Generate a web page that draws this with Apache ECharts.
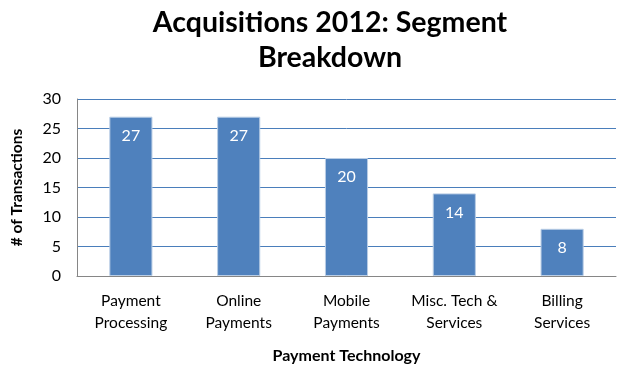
<!DOCTYPE html>
<html><head><meta charset="utf-8">
<script src="https://cdn.jsdelivr.net/npm/echarts@6/dist/echarts.min.js"></script>
<style>html,body{margin:0;padding:0;background:#fff}#c{width:629px;height:369px}</style>
</head><body><div id="c"></div>
<script>
var categories = ['Payment\nProcessing', 'Online\nPayments', 'Mobile\nPayments', 'Misc. Tech &\nServices', 'Billing\nServices'];
var values = [27, 27, 20, 14, 8];
var yTicks = [0, 5, 10, 15, 20, 25, 30];

var font = 'Lato, "Open Sans", sans-serif';
var chart = echarts.init(document.getElementById('c'));
chart.setOption({
  animation: false,
  textStyle: {fontFamily: font},
  title: {
    text: 'Acquisitions 2012: Segment\nBreakdown',
    left: 325, textAlign: 'center', top: 0,
    textStyle: {fontFamily: font, fontSize: 28.5, fontWeight: 'bold', color: '#000', lineHeight: 35}
  },
  grid: {left: 77, right: 13, top: 99, bottom: 93, containLabel: false},
  xAxis: {
    type: 'category', data: categories,
    name: 'Payment Technology', nameLocation: 'middle', nameGap: 72,
    nameTextStyle: {fontFamily: font, fontSize: 16, fontWeight: 'bold', color: '#000'},
    axisLine: {lineStyle: {color: '#868686'}},
    axisTick: {show: false},
    axisLabel: {interval: 0, fontFamily: font, fontSize: 15.5, color: '#000', lineHeight: 22, margin: 14}
  },
  yAxis: {
    type: 'value', min: 0, max: 30, interval: 5,
    name: '# of Transactions', nameLocation: 'middle', nameGap: 52, nameRotate: 90,
    nameTextStyle: {fontFamily: font, fontSize: 15.5, fontWeight: 'bold', color: '#000'},
    axisLine: {show: true, lineStyle: {color: '#868686'}},
    axisTick: {show: false},
    axisLabel: {fontFamily: font, fontSize: 16, color: '#000', margin: 16,
      formatter: function (v) { return yTicks.indexOf(v) >= 0 ? String(v) : ''; }},
    splitLine: {lineStyle: {color: '#4a7ebb', width: 1}}
  },
  series: [{
    type: 'bar', data: values, barWidth: '40%',
    itemStyle: {color: '#4f81bd', borderColor: '#b9cde5', borderWidth: 1},
    label: {show: true, position: 'insideTop', distance: 11, color: '#fff', fontFamily: font, fontSize: 16}
  }]
});
</script></body></html>
